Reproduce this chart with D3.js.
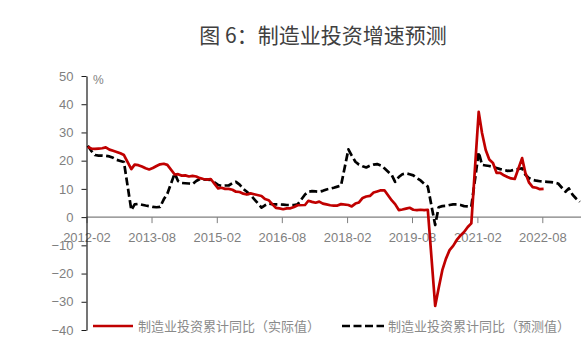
<!DOCTYPE html>
<html><head><meta charset="utf-8">
<script src="https://cdn.jsdelivr.net/npm/d3@7"></script>
<style>body{margin:0;background:#fff}</style>
</head><body><svg id="c" width="581" height="357"></svg>
<script>
const titleText = "图 6：制造业投资增速预测";
const unitLabel = "%";
const seriesNames = ["制造业投资累计同比（实际值）", "制造业投资累计同比（预测值）"];
const startYear = 2012, startMonth = 2; // monthly, January not published
const actualValues = [
  24.9, 24.3, 24.2, 24.3, 24.4, 24.7, 23.9, 23.5, 23.1, 22.6, 22.0,
  17.0, 18.6, 18.4, 17.9, 17.3, 16.9, 17.4, 18.1, 18.7, 18.9, 18.5,
  15.1, 15.2, 14.7, 14.8, 14.4, 14.6, 14.4, 13.8, 13.5, 13.3, 13.5,
  10.2, 10.4, 10.0, 10.0, 9.7, 9.0, 8.9, 8.3, 8.0, 8.4, 8.1,
  7.5, 6.4, 6.0, 4.6, 3.3, 3.1, 2.8, 3.1, 3.1, 3.6, 4.2,
  4.3, 5.8, 5.4, 5.1, 5.5, 4.8, 4.5, 4.2, 4.1, 4.1, 4.6,
  4.3, 3.8, 4.8, 5.2, 6.8, 7.3, 7.5, 8.7, 9.1, 9.5, 9.5,
  5.9, 4.6, 2.5, 2.7, 3.0, 3.3, 2.6, 2.5, 2.6, 2.5, 2.6,
  -31.5, -25.2, -18.8, -14.8, -11.7, -10.2, -8.1, -6.5, -5.3, -3.5, -2.2,
  37.3, 29.8, 23.8, 20.4, 19.2, 15.7, 15.7, 14.8, 14.2, 13.7, 13.5,
  20.9, 15.6, 12.2, 10.6, 10.4, 9.9, 10.0
];
const forecastValues = [
  25.3, 23.5, 22.0, 21.8, 21.8, 21.7, 21.5, 21.0, 20.3, 19.9, 19.5,
  2.5, 4.5, 4.7, 4.4, 4.1, 3.9, 3.6, 3.5, 3.6, 6.3, 8.3,
  15.5, 12.8, 12.1, 12.0, 11.9, 11.7, 12.8, 13.5, 13.4, 13.3, 13.2,
  11.4, 11.1, 11.2, 11.2, 12.0, 12.5, 11.5, 10.0, 9.0, 7.8, 6.4,
  3.4, 4.2, 4.8, 4.6, 4.5, 4.5, 4.4, 4.3, 4.3, 4.3, 4.5,
  8.0, 9.0, 9.2, 9.1, 9.0, 9.3, 9.8, 10.1, 10.4, 10.8, 11.2,
  24.0, 21.8, 19.6, 18.6, 18.0, 17.6, 18.2, 18.6, 18.8, 18.3, 17.3,
  14.9, 12.5, 14.2, 15.2, 15.5, 15.2, 14.8, 13.8, 13.0, 11.8, 10.8,
  -2.8, 3.5, 3.9, 4.0, 4.3, 4.5, 4.5, 4.3, 3.9, 3.8, 3.7,
  23.0, 18.5, 18.3, 18.1, 17.8, 17.4, 17.0, 16.7, 16.4, 16.5, 16.8,
  17.3, 15.0, 13.8, 13.2, 12.9, 12.7, 12.6, 12.5, 12.4, 12.2, 11.9,
  9.0, 10.2, 8.0, 6.6, 5.4
];
const tickLabels = ["2012-02", "2013-08", "2015-02", "2016-08", "2018-02", "2019-08", "2021-02", "2022-08"];
const yTicks = [50, 40, 30, 20, 10, 0, -10, -20, -30, -40];

function monthDates(n) {
  const out = []; let yy = startYear, mm = startMonth;
  while (out.length < n) {
    if (mm !== 1) out.push(new Date(Date.UTC(yy, mm - 1, 12)));
    mm++; if (mm > 12) { mm = 1; yy++; }
  }
  return out;
}
const parseTick = s => { const [a, b] = s.split("-").map(Number); return new Date(Date.UTC(a, b - 1, 1)); };

const svg = d3.select("#c");
const x = d3.scaleUtc().domain([parseTick("2012-02"), parseTick("2022-08")]).range([86.5, 542.3]);
const y = d3.scaleLinear().domain([-40, 50]).range([330, 76]);
const sans = "'Liberation Sans', Arial, sans-serif";
const cjk = "'Noto Sans CJK SC', sans-serif";

svg.append("text").attr("x", 323).attr("y", 43).attr("text-anchor", "middle")
  .style("font-family", cjk).style("font-size", "21px").attr("fill", "#404040").text(titleText);

// x axis at zero
const xg = svg.append("g").attr("transform", `translate(0,${y(0)})`)
  .call(d3.axisBottom(x).tickValues(tickLabels.map(parseTick)).tickFormat((d, i) => tickLabels[i])
    .tickSize(6).tickSizeOuter(0).tickPadding(9.5));
xg.select(".domain").remove();
xg.selectAll(".tick line").attr("stroke", "#7f7f7f");
xg.selectAll(".tick text").attr("fill", "#7f7f7f").style("font-family", sans).style("font-size", "13px");
xg.append("line").attr("x1", x.range()[0]).attr("x2", 581).attr("stroke", "#7f7f7f").attr("stroke-width", 1.2);

// y axis
const yg = svg.append("g").attr("transform", "translate(86.5,0)")
  .call(d3.axisLeft(y).tickValues(yTicks).tickSize(5).tickSizeOuter(0).tickPadding(8));
yg.select(".domain").attr("stroke", "#1a1a1a").attr("stroke-width", 1.2);
yg.selectAll(".tick line").attr("stroke", "#1a1a1a");
yg.selectAll(".tick text").attr("fill", "#7f7f7f").style("font-family", sans).style("font-size", "13px");

svg.append("text").attr("x", 93).attr("y", 84).style("font-family", sans).style("font-size", "12px")
  .attr("fill", "#7f7f7f").text(unitLabel);

const line = d3.line().x(d => x(d.date)).y(d => y(d.v));
const aDates = monthDates(actualValues.length);
const fDates = monthDates(forecastValues.length);
const actual = actualValues.map((v, i) => ({ date: aDates[i], v }));
const forecast = forecastValues.map((v, i) => ({ date: fDates[i], v }));

svg.append("path").datum(forecast).attr("d", line).attr("fill", "none").attr("stroke", "#000")
  .attr("stroke-width", 2.7).attr("stroke-dasharray", "8,3.5").attr("stroke-linejoin", "round");
svg.append("path").datum(actual).attr("d", line).attr("fill", "none").attr("stroke", "#C00000")
  .attr("stroke-width", 2.7).attr("stroke-linejoin", "round");

// legend
const lg = svg.append("g");
lg.append("line").attr("x1", 93).attr("x2", 133).attr("y1", 326).attr("y2", 326)
  .attr("stroke", "#C00000").attr("stroke-width", 2.7);
lg.append("text").attr("x", 138).attr("y", 331).style("font-family", cjk).style("font-size", "13px")
  .attr("fill", "#8a8a8a").text(seriesNames[0]);
lg.append("line").attr("x1", 342).attr("x2", 384).attr("y1", 326).attr("y2", 326)
  .attr("stroke", "#000").attr("stroke-width", 2.7).attr("stroke-dasharray", "8,3.5");
lg.append("text").attr("x", 388).attr("y", 331).style("font-family", cjk).style("font-size", "13px")
  .attr("fill", "#8a8a8a").text(seriesNames[1]);
</script></body></html>
